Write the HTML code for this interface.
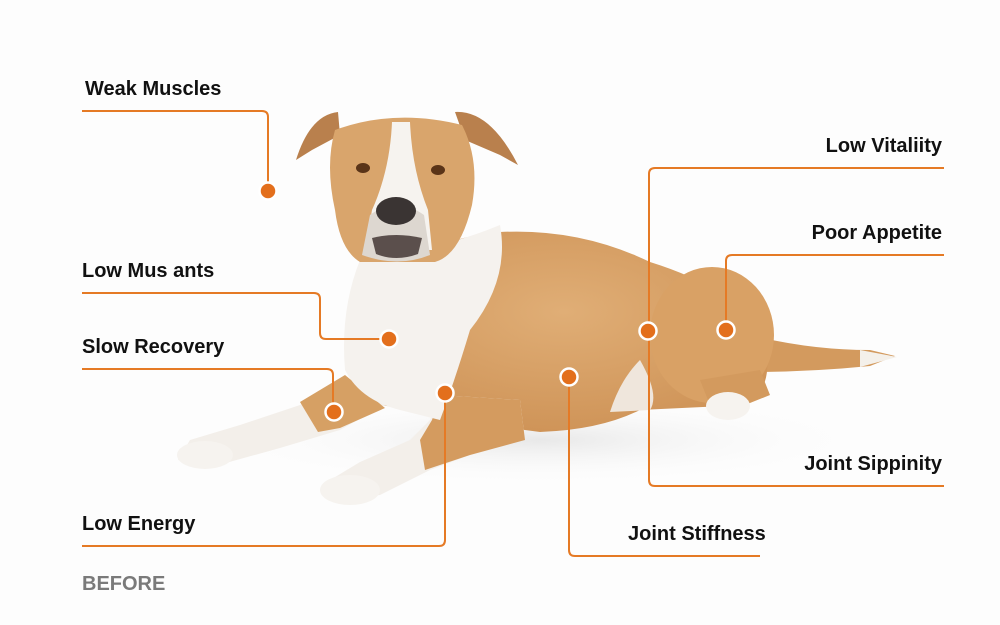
<!DOCTYPE html>
<html><head><meta charset="utf-8"><style>
html,body{margin:0;padding:0;background:#fdfdfd;}
svg{display:block}
text{font-family:"Liberation Sans",sans-serif;font-weight:bold;font-size:20px;fill:#111}
</style></head><body>
<svg width="1000" height="625" viewBox="0 0 1000 625" xmlns="http://www.w3.org/2000/svg">
<defs>
<radialGradient id="tan" cx="50%" cy="40%" r="60%"><stop offset="0" stop-color="#e0ae76"/><stop offset="1" stop-color="#cf9458"/></radialGradient>
<radialGradient id="sh" cx="50%" cy="50%" r="50%"><stop offset="0" stop-color="#e8e8e8"/><stop offset="1" stop-color="#fdfdfd" stop-opacity="0"/></radialGradient>
</defs>
<rect width="1000" height="625" fill="#fdfdfd"/>
<ellipse cx="540" cy="440" rx="330" ry="45" fill="url(#sh)"/>
<!-- tail -->
<path d="M750 335 Q810 350 870 350 L895 356 L870 366 Q810 372 750 372 Z" fill="#d39a5e"/>
<path d="M860 350 L897 357 L860 367 Z" fill="#f4f0ea"/>
<!-- body -->
<path d="M360 290 Q420 240 500 232 Q580 228 650 262 Q740 290 765 340 Q775 390 745 405 L640 410 Q600 430 540 432 L450 420 L360 400 Z" fill="url(#tan)"/>
<!-- hind leg -->
<ellipse cx="712" cy="335" rx="62" ry="68" fill="#d9a165"/>
<path d="M700 380 L760 370 L770 395 L745 405 L710 405 Z" fill="#d39a5e"/>
<ellipse cx="728" cy="406" rx="22" ry="14" fill="#f6f3ef"/>
<path d="M640 360 Q660 395 650 410 L610 412 Q620 380 640 360Z" fill="#efe6dc"/>
<!-- front left leg -->
<path d="M345 380 L300 405 L240 425 L190 440 L178 460 L215 466 L280 448 L340 430 L385 405 Z" fill="#f3efea"/>
<path d="M345 375 L300 402 L318 432 L340 428 L385 408 Z" fill="#d6a064"/>
<ellipse cx="205" cy="455" rx="28" ry="14" fill="#f6f3ef"/>
<!-- front right leg -->
<path d="M440 395 L520 400 L525 440 L470 455 L430 470 L380 495 L330 500 L322 485 L360 462 L410 440 L430 420 Z" fill="#f3efea"/>
<path d="M440 395 L520 400 L525 440 L470 455 L425 470 L420 440 L432 420 Z" fill="#d49b5f"/>
<ellipse cx="350" cy="490" rx="30" ry="15" fill="#f6f3ef"/>
<!-- chest white -->
<path d="M360 260 Q440 250 500 225 Q510 280 470 330 Q455 380 440 420 L400 410 Q360 400 345 370 Q340 310 360 260Z" fill="#f5f2ee"/>
<!-- ears -->
<path d="M338 112 Q310 115 296 160 L312 150 L340 135 Z" fill="#b9804d"/>
<path d="M455 112 Q490 110 518 165 L500 155 L465 140 Z" fill="#b9804d"/>
<!-- head -->
<path d="M335 130 Q395 108 462 125 Q480 160 472 205 Q460 255 435 262 L360 262 Q340 250 335 210 Q325 165 335 130Z" fill="#d9a56c"/>
<path d="M392 122 L410 122 Q412 170 428 210 L432 250 L365 250 L372 210 Q390 170 392 122Z" fill="#f6f3ef"/>
<path d="M370 215 Q396 195 424 215 L430 255 Q398 268 362 255 Z" fill="#ddd7d0"/>
<ellipse cx="396" cy="211" rx="20" ry="14" fill="#3a3433"/>
<path d="M372 238 Q396 232 422 238 L418 254 Q396 262 376 254 Z" fill="#5b4f4c"/>
<ellipse cx="363" cy="168" rx="7" ry="5" fill="#5a3418"/>
<ellipse cx="438" cy="170" rx="7" ry="5" fill="#5a3418"/>
<!-- connectors -->
<g fill="none" stroke="#e57a25" stroke-width="2">
<path d="M82 111 H262 Q268 111 268 117 V191"/>
<path d="M82 293 H314 Q320 293 320 299 V333 Q320 339 326 339 H389"/>
<path d="M82 369 H327 Q333 369 333 375 V412"/>
<path d="M82 546 H439 Q445 546 445 540 V393"/>
<path d="M569 377 V550 Q569 556 575 556 H760"/>
<path d="M944 168 H655 Q649 168 649 174 V480 Q649 486 655 486 H944"/>
<path d="M944 255 H732 Q726 255 726 261 V330"/>
</g>
<g fill="#e36f1c" stroke="#fff" stroke-width="2.5">
<circle cx="268" cy="191" r="8.5"/>
<circle cx="389" cy="339" r="8.5"/>
<circle cx="334" cy="412" r="8.5"/>
<circle cx="445" cy="393" r="8.5"/>
<circle cx="569" cy="377" r="8.5"/>
<circle cx="648" cy="331" r="8.5"/>
<circle cx="726" cy="330" r="8.5"/>
</g>
<text x="85" y="95">Weak Muscles</text>
<text x="82" y="277">Low Mus ants</text>
<text x="82" y="353">Slow Recovery</text>
<text x="82" y="530">Low Energy</text>
<text x="628" y="540">Joint Stiffness</text>
<text x="942" y="152" text-anchor="end">Low Vitaliity</text>
<text x="942" y="239" text-anchor="end">Poor Appetite</text>
<text x="942" y="470" text-anchor="end">Joint Sippinity</text>
<text x="82" y="590" style="fill:#7a7a7a">BEFORE</text>
</svg>
</body></html>
